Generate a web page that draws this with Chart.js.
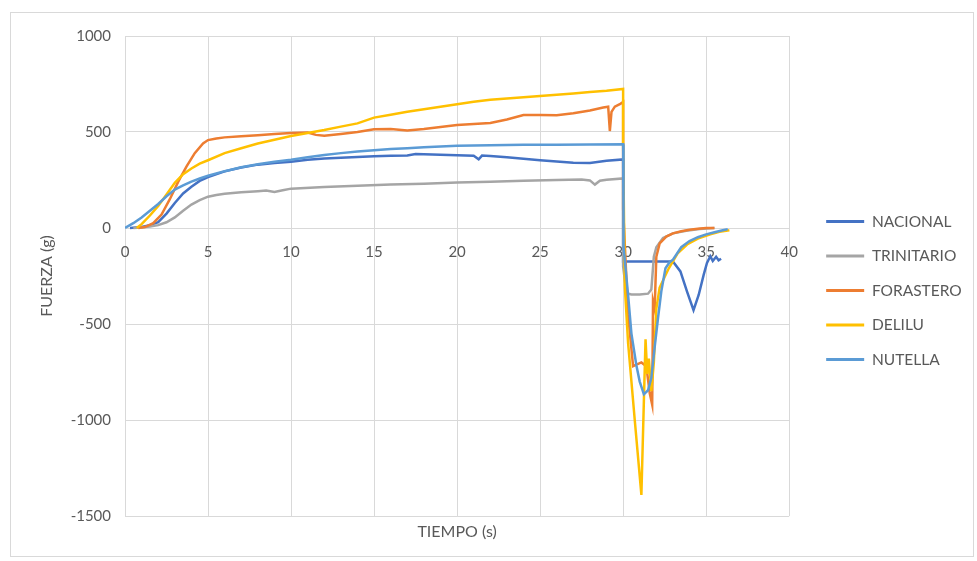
<!DOCTYPE html>
<html>
<head>
<meta charset="utf-8">
<script src="https://cdn.jsdelivr.net/npm/chart.js@4"></script>
<style>
  html, body { margin: 0; padding: 0; background: #ffffff; }
  #wrap { position: relative; width: 977px; height: 561px; }
  #frame { position: absolute; left: 10px; top: 12px; width: 964px; height: 545px; border: 1px solid #d9d9d9; box-sizing: border-box; }
  #c { position: absolute; left: 0; top: 0; }
</style>
</head>
<body>
<div id="wrap">
  <div id="frame"></div>
  <canvas id="c" width="977" height="561"></canvas>
</div>
<script>
// ---- Data ----
const seriesNames = ['NACIONAL', 'TRINITARIO', 'FORASTERO', 'DELILU', 'NUTELLA'];

const nacionalT = [0.3, 1, 1.5, 2, 2.5, 3, 3.5, 4, 4.5, 5, 6, 7, 8, 9, 10, 11, 12, 13, 14, 15, 16, 17, 17.5, 18, 19, 20, 21, 21.3, 21.5, 22, 23, 24, 25, 26, 27, 28, 29, 30, 30, 30.5, 31, 32, 33, 33.45, 33.85, 34.24, 34.55, 34.85, 35.05, 35.25, 35.4, 35.6, 35.75, 35.9];
const nacionalF = [0, 5, 15, 30, 75, 130, 180, 215, 245, 265, 295, 315, 330, 338, 345, 355, 362, 366, 370, 374, 376, 378, 385, 384, 382, 379, 376, 358, 377, 375, 369, 361, 353, 346, 340, 338, 350, 357, -174, -174, -174, -174, -174, -226, -331, -428, -349, -244, -182, -147, -172, -150, -168, -160];

const trinitarioT = [0.5, 1, 1.5, 2, 2.5, 3, 3.5, 4, 4.5, 5, 5.5, 6, 7, 8, 8.5, 9, 9.5, 10, 12, 14, 16, 18, 20, 22, 24, 26, 27.5, 28, 28.3, 28.6, 29, 30, 30, 30.2, 30.5, 31, 31.5, 31.7, 31.85, 32, 32.4, 33, 33.8, 34.6, 35.5];
const trinitarioF = [0, 3, 8, 15, 30, 55, 90, 122, 145, 163, 172, 178, 186, 192, 195, 188, 197, 205, 213, 220, 226, 231, 237, 241, 246, 250, 252, 248, 226, 246, 251, 258, -200, -340, -346, -346, -342, -320, -150, -100, -52, -28, -14, -5, 0];

const forasteroT = [0.8, 1.2, 1.7, 2.2, 2.7, 3.2, 3.7, 4.2, 4.7, 5, 5.5, 6, 7, 8, 9, 10, 11, 11.5, 12, 13, 14, 15, 16, 17, 18, 19, 20, 21, 22, 23, 24, 25, 26, 27, 28, 28.8, 29.1, 29.2, 29.3, 29.5, 29.8, 30, 30, 30.3, 30.6, 31.1, 31.4, 31.6, 31.75, 31.8, 31.9, 32, 32.2, 32.6, 33, 33.5, 34, 34.5, 35, 35.5];
const forasteroF = [0, 5, 25, 70, 150, 240, 320, 390, 440, 458, 466, 472, 478, 483, 489, 495, 497, 485, 480, 490, 500, 514, 516, 508, 516, 526, 537, 542, 547, 565, 588, 589, 587, 598, 612, 628, 632, 505, 605, 632, 645, 657, 100, -450, -720, -700, -720, -860, -920, -380, -420, -150, -80, -45, -28, -17, -9, -4, 0, 0];

const deliluT = [0.7, 1, 1.5, 2, 2.5, 3, 3.5, 4, 4.5, 5, 6, 7, 8, 9, 10, 11, 12, 13, 14, 15, 16, 17, 18, 19, 20, 21, 22, 23, 24, 25, 26, 27, 28, 29, 30, 30, 30.1, 30.3, 30.7, 31.1, 31.25, 31.35, 31.45, 31.55, 31.7, 31.85, 32, 32.2, 32.75, 33.3, 33.85, 34.5, 35.25, 35.8, 36.4];
const deliluF = [0, 20, 65, 115, 175, 235, 280, 310, 335, 353, 390, 415, 440, 460, 479, 495, 510, 528, 545, 575, 590, 605, 618, 632, 645, 657, 668, 675, 681, 688, 694, 701, 708, 715, 724, 440, -300, -600, -1000, -1390, -900, -580, -760, -680, -850, -700, -420, -310, -210, -130, -86, -55, -33, -20, -12];

const nutellaT = [0, 0.5, 1, 1.5, 2, 2.5, 3, 3.5, 4, 4.5, 5, 6, 7, 8, 9, 10, 11, 12, 13, 14, 15, 16, 17, 18, 19, 20, 22, 24, 26, 28, 30, 30, 30.05, 30.3, 30.5, 30.8, 31, 31.25, 31.5, 31.7, 31.9, 32.1, 32.3, 32.55, 32.8, 33, 33.5, 34, 34.5, 35, 35.5, 36, 36.3];
const nutellaF = [0, 25, 55, 90, 125, 165, 200, 222, 242, 258, 272, 296, 316, 332, 345, 355, 368, 380, 390, 398, 405, 411, 416, 421, 425, 428, 431, 433, 434, 435, 436, 0, -100, -350, -550, -716, -800, -866, -845, -780, -620, -470, -330, -210, -178, -165, -100, -68, -48, -33, -22, -12, -6];

const xTicks = [0, 5, 10, 15, 20, 25, 30, 35, 40];
const yTicks = [-1500, -1000, -500, 0, 500, 1000];

const colors = ['#4472C4', '#A5A5A5', '#ED7D31', '#FFC000', '#5B9BD5'];

function pts(t, f) { return t.map((v, i) => ({ x: v, y: f[i] })); }
const allT = [nacionalT, trinitarioT, forasteroT, deliluT, nutellaT];
const allF = [nacionalF, trinitarioF, forasteroF, deliluF, nutellaF];

const datasets = seriesNames.map((name, i) => ({
  label: name,
  data: pts(allT[i], allF[i]),
  borderColor: colors[i],
  backgroundColor: colors[i],
  borderWidth: 2.5,
  pointRadius: 0,
  showLine: true,
  tension: 0,
  order: seriesNames.length - i
}));

const textColor = '#595959';
const gridColor = '#d9d9d9';
const fontFamily = 'Lato, "Open Sans", sans-serif';

new Chart(document.getElementById('c'), {
  type: 'scatter',
  data: { datasets },
  options: {
    responsive: false,
    animation: false,
    events: [],
    layout: { padding: { left: 33, top: 36, right: 15, bottom: 16 } },
    plugins: {
      tooltip: { enabled: false },
      legend: {
        position: 'right',
        align: 'center',
        labels: {
          color: textColor,
          font: { family: fontFamily, size: 15.5 },
          boxWidth: 38,
          boxHeight: 3,
          padding: 19,
          generateLabels: (chart) => {
            const items = Chart.defaults.plugins.legend.labels.generateLabels(chart);
            items.sort((a, b) => a.datasetIndex - b.datasetIndex);
            return items.map(it => Object.assign(it, { lineWidth: 0, fillStyle: it.strokeStyle }));
          }
        }
      }
    },
    scales: {
      x: {
        type: 'linear',
        position: { y: 0 },
        min: 0, max: 40,
        afterBuildTicks: (s) => { s.ticks = xTicks.map(v => ({ value: v })); },
        grid: { color: gridColor, lineWidth: 1, drawTicks: false },
        border: { display: false },
        ticks: { color: textColor, padding: 15, font: { family: fontFamily, size: 15 }, maxRotation: 0, callback: (v) => String(v) }
      },
      x2: {
        type: 'linear',
        position: 'bottom',
        grid: { display: false, drawTicks: false },
        border: { display: false },
        ticks: { display: false },
        title: { display: true, text: 'TIEMPO (s)', color: textColor, font: { family: fontFamily, size: 16 }, padding: { top: 4, bottom: 4 } },
        afterFit: (s) => { s.height = 29; }
      },
      y: {
        type: 'linear',
        position: 'left',
        min: -1500, max: 1000,
        afterBuildTicks: (s) => { s.ticks = yTicks.map(v => ({ value: v })); },
        grid: { color: gridColor, lineWidth: 1, drawTicks: false },
        border: { display: false },
        ticks: { color: textColor, padding: 14, font: { family: fontFamily, size: 15 }, callback: (v) => String(v) },
        title: { display: true, text: 'FUERZA (g)', color: textColor, font: { family: fontFamily, size: 16 }, padding: { top: 4, bottom: 4 } },
        afterFit: (s) => { s.width = 92; }
      },
      yR: {
        type: 'linear',
        position: 'right',
        grid: { display: false, drawTicks: false },
        border: { display: false },
        ticks: { display: false },
        afterFit: (s) => { s.width = 18; }
      }
    }
  }
});
</script>
</body>
</html>
